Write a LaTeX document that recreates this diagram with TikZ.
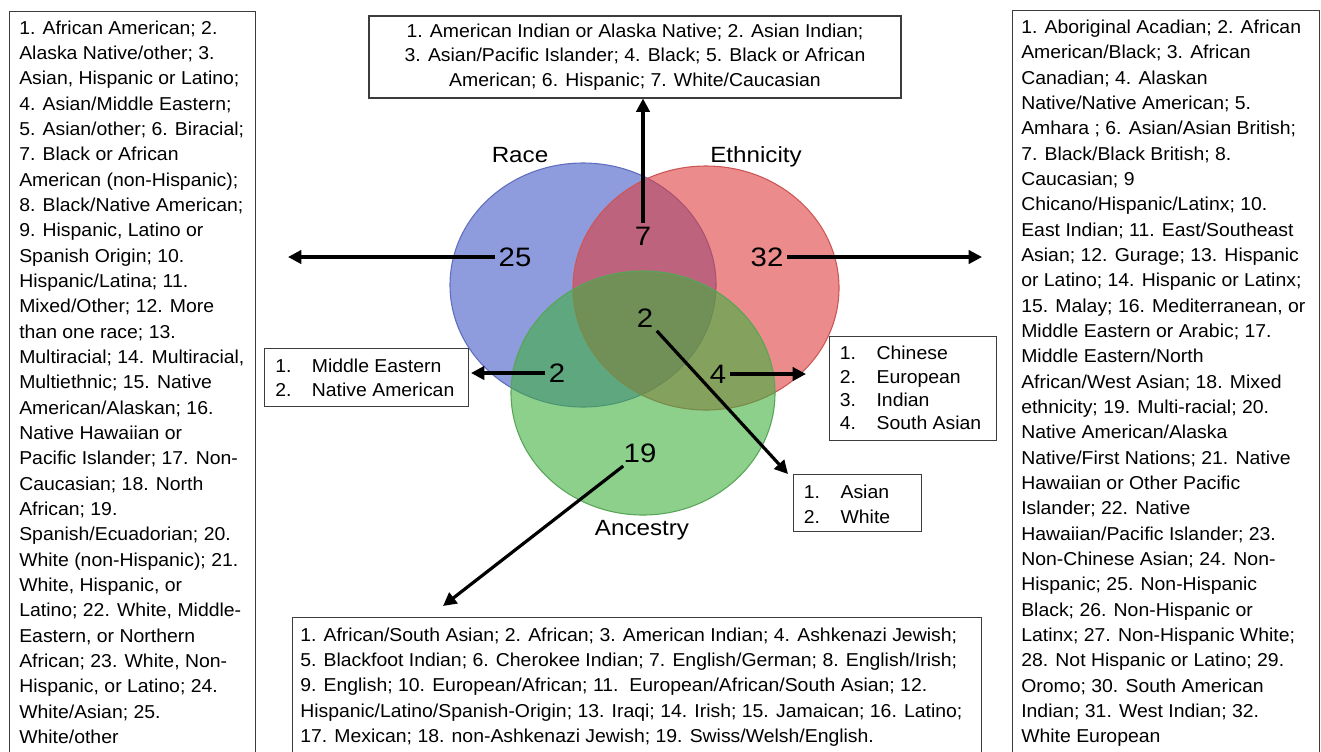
\documentclass[tikz,border=0pt]{standalone}
\usepackage{fontspec}
\setmainfont{Liberation Sans}[FakeStretch=1.04]
\newfontfamily\widesans{Liberation Sans}[FakeStretch=1.1]
\usetikzlibrary{arrows.meta,positioning}

\definecolor{racefill}{RGB}{66,88,196}
\definecolor{raceline}{RGB}{96,110,190}
\definecolor{ethfill}{RGB}{222,62,62}
\definecolor{ethline}{RGB}{205,85,85}
\definecolor{ancfill}{RGB}{64,176,64}
\definecolor{ancline}{RGB}{88,165,88}
\definecolor{boxline}{RGB}{60,60,60}

\newcommand{\itm}[1]{\makebox[27.5pt][l]{#1}}

\begin{document}
\begin{tikzpicture}[x=0.75pt,y=0.75pt,yscale=-1,xscale=1,
  listbox/.style={draw=boxline,line width=0.8pt,inner sep=0pt},
  listtext/.style={align=left,anchor=north west,inner sep=0pt,font=\fontsize{14}{19}\selectfont},
  count/.style={font=\widesans\fontsize{20}{24}\selectfont,inner sep=2.5pt},
  setname/.style={font=\widesans\fontsize{16.5}{20}\selectfont},
  arr/.style={line width=2.4pt,-{Triangle[length=10pt,width=10pt]}}]
\useasboundingbox (0,0) rectangle (1321,751);

%Shape: Ellipse [Race]
\draw [raceline,fill=racefill,fill opacity=0.6,line width=0.8pt] (583,285) ellipse (133 and 122);
%Shape: Ellipse [Ethnicity]
\draw [ethline,fill=ethfill,fill opacity=0.6,line width=0.8pt] (706,288) ellipse (133 and 122);
%Shape: Ellipse [Ancestry]
\draw [ancline,fill=ancfill,fill opacity=0.6,line width=0.8pt] (643,393) ellipse (132 and 122);

% Text Node
\node [setname] (race) at (520,155) {Race};
% Text Node
\node [setname] (ethnicity) at (756,157) {Ethnicity};
% Text Node
\node [setname] (ancestry) at (642,530) {Ancestry};

% Text Node
\node [count] (n25) at (515,257) {25};
% Text Node
\node [count] (n7) at (643,236) {7};
% Text Node
\node [count] (n32) at (767,257) {32};
% Text Node
\node [count] (n2c) at (645,318) {2};
% Text Node
\node [count] (n2rb) at (557,373) {2};
% Text Node
\node [count] (n4) at (718,374) {4};
% Text Node
\node [count] (n19) at (640,453) {19};

%Shape: Rectangle [race only]
\node [listbox,anchor=north west,minimum width=184.5pt,minimum height=562pt] (racebox) at (9,11) {};
\node [listtext] (racelist) at ([xshift=7.5pt,yshift=7.1pt]racebox.north west) {1. African American; 2.\\
Alaska Native/other; 3.\\
Asian, Hispanic or Latino;\\
4. Asian/Middle Eastern;\\
5. Asian/other; 6. Biracial;\\
7. Black or African\\
American (non-Hispanic);\\
8. Black/Native American;\\
9. Hispanic, Latino or\\
Spanish Origin; 10.\\
Hispanic/Latina; 11.\\
Mixed/Other; 12. More\\
than one race; 13.\\
Multiracial; 14. Multiracial,\\
Multiethnic; 15. Native\\
American/Alaskan; 16.\\
Native Hawaiian or\\
Pacific Islander; 17. Non-\\
Caucasian; 18. North\\
African; 19.\\
Spanish/Ecuadorian; 20.\\
White (non-Hispanic); 21.\\
White, Hispanic, or\\
Latino; 22. White, Middle-\\
Eastern, or Northern\\
African; 23. White, Non-\\
Hispanic, or Latino; 24.\\
White/Asian; 25.\\
White/other};

%Shape: Rectangle [ethnicity only]
\node [listbox,anchor=north west,minimum width=230.25pt,minimum height=562pt] (ethbox) at (1012,10) {};
\node [listtext] (ethlist) at ([xshift=6.75pt,yshift=7.3pt]ethbox.north west) {1. Aboriginal Acadian; 2. African\\
American/Black; 3. African\\
Canadian; 4. Alaskan\\
Native/Native American; 5.\\
Amhara ; 6. Asian/Asian British;\\
7. Black/Black British; 8.\\
Caucasian; 9\\
Chicano/Hispanic/Latinx; 10.\\
East Indian; 11. East/Southeast\\
Asian; 12. Gurage; 13. Hispanic\\
or Latino; 14. Hispanic or Latinx;\\
15. Malay; 16. Mediterranean, or\\
Middle Eastern or Arabic; 17.\\
Middle Eastern/North\\
African/West Asian; 18. Mixed\\
ethnicity; 19. Multi-racial; 20.\\
Native American/Alaska\\
Native/First Nations; 21. Native\\
Hawaiian or Other Pacific\\
Islander; 22. Native\\
Hawaiian/Pacific Islander; 23.\\
Non-Chinese Asian; 24. Non-\\
Hispanic; 25. Non-Hispanic\\
Black; 26. Non-Hispanic or\\
Latinx; 27. Non-Hispanic White;\\
28. Not Hispanic or Latino; 29.\\
Oromo; 30. South American\\
Indian; 31. West Indian; 32.\\
White European};

%Shape: Rectangle [race and ethnicity]
\node [listbox,align=center,minimum width=399pt,minimum height=61.5pt,font=\fontsize{14}{18.2}\selectfont] (bothbox) at (635,57) {1. American Indian or Alaska Native; 2. Asian Indian;\\
3. Asian/Pacific Islander; 4. Black; 5. Black or African\\
American; 6. Hispanic; 7. White/Caucasian};

%Shape: Rectangle [ancestry only]
\node [listbox,anchor=north west,minimum width=516.75pt,minimum height=110pt] (ancbox) at (292,617) {};
\node [listtext] (anclist) at ([xshift=6pt,yshift=7.7pt]ancbox.north west) {1. African/South Asian; 2. African; 3. American Indian; 4. Ashkenazi Jewish;\\
5. Blackfoot Indian; 6. Cherokee Indian; 7. English/German; 8. English/Irish;\\
9. English; 10. European/African; 11.\ \ European/African/South Asian; 12.\\
Hispanic/Latino/Spanish-Origin; 13. Iraqi; 14. Irish; 15. Jamaican; 16. Latino;\\
17. Mexican; 18. non-Ashkenazi Jewish; 19. Swiss/Welsh/English.};

%Shape: Rectangle [race and ancestry]
\node [listbox,anchor=north west,minimum width=153pt,minimum height=43.5pt] (rabox) at (264,348) {};
\node [listtext,font=\fontsize{14}{17.5}\selectfont] (ralist) at ([xshift=8.25pt,yshift=8.25pt]rabox.north west) {\itm{1.}Middle Eastern\\
\itm{2.}Native American};

%Shape: Rectangle [ethnicity and ancestry]
\node [listbox,anchor=north west,minimum width=125.25pt,minimum height=78pt] (eabox) at (829,336) {};
\node [listtext,font=\fontsize{14}{17.5}\selectfont] (ealist) at ([xshift=8pt,yshift=7.5pt]eabox.north west) {\itm{1.}Chinese\\
\itm{2.}European\\
\itm{3.}Indian\\
\itm{4.}South Asian};

%Shape: Rectangle [all three]
\node [listbox,anchor=north west,minimum width=96pt,minimum height=42.75pt] (allbox) at (793,474) {};
\node [listtext,font=\fontsize{14}{18.5}\selectfont] (alllist) at ([xshift=8pt,yshift=8.25pt]allbox.north west) {\itm{1.}Asian\\
\itm{2.}White};

% free arrow ends
\coordinate (raceend) at (288,257);
\coordinate (ethend) at (982,257);
\coordinate (raend) at (471,373);
\coordinate (eaend) at (806,374);
\coordinate (allend) at (788,474);
\coordinate (ancend) at (443,606);

%Straight Lines
\draw [arr] (n25.west) -- (raceend);
\draw [arr] (n7.north) -- (n7.north |- bothbox.south);
\draw [arr] (n32.east) -- (ethend);
\draw [arr] (n2rb.west) -- (raend);
\draw [arr] (n4.east) -- (eaend);
\draw [arr] (n2c) -- (allend);
\draw [arr] (n19) -- (ancend);

\end{tikzpicture}
\end{document}
